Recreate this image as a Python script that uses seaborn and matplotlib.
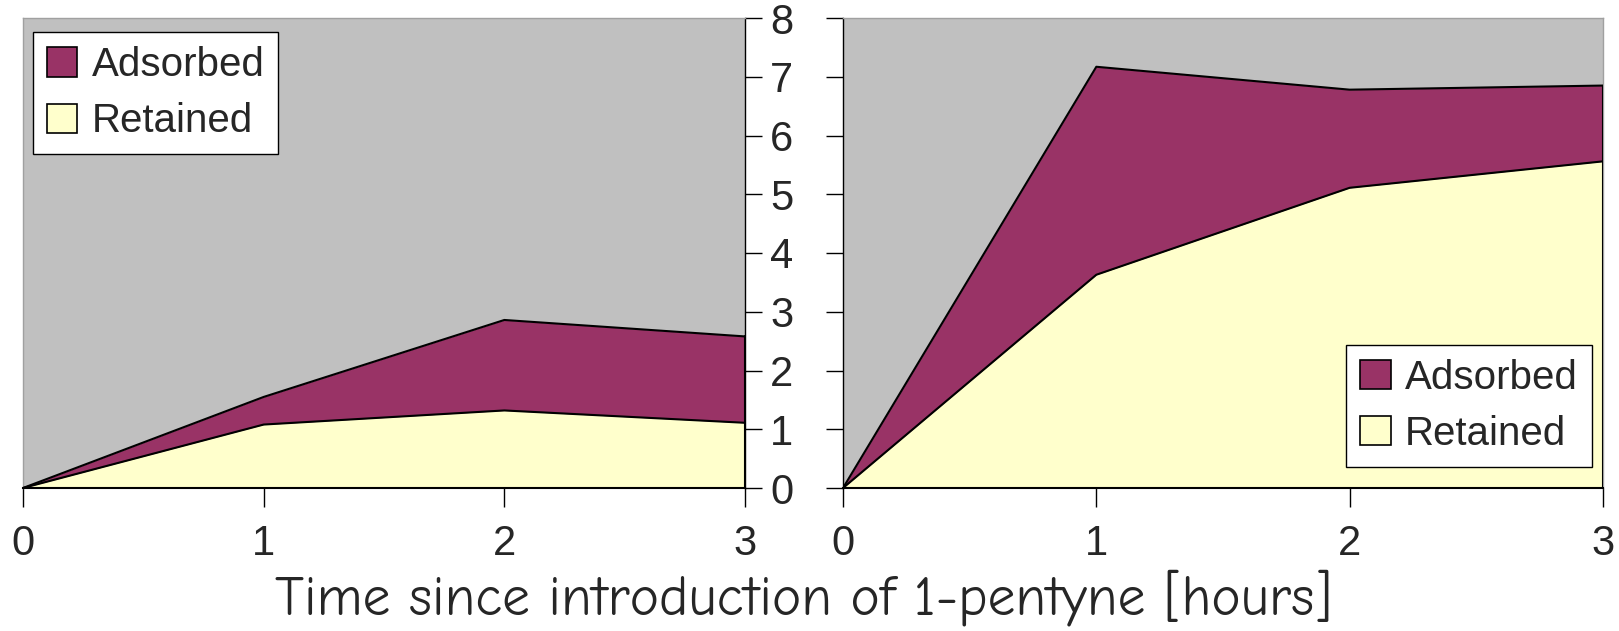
import matplotlib
matplotlib.use("Agg")
import matplotlib.pyplot as plt
import seaborn as sns
import numpy as np
import pandas as pd
from matplotlib.patches import Patch

hours = [0, 1, 2, 3]
left_retained = [0, 1.08, 1.32, 1.11]
left_adsorbed = [0, 0.47, 1.54, 1.47]
right_retained = [0, 3.63, 5.11, 5.56]
right_adsorbed = [0, 3.54, 1.67, 1.29]
y_ticks = [0, 1, 2, 3, 4, 5, 6, 7, 8]
x_label = "Time since introduction of 1-pentyne [hours]"
series_names = ["Adsorbed", "Retained"]

C_BG = "#C0C0C0"
C_ADS = "#993366"
C_RET = "#FFFFCC"

sns.set_theme(style="white")
plt.rcParams['font.family'] = ['Liberation Sans Narrow', 'Liberation Sans', 'DejaVu Sans']

fig = plt.figure(figsize=(16.19, 6.31), dpi=100)
W, H = 1619, 631
axL = fig.add_axes([23 / W, 1 - 488 / H, (745 - 23) / W, (488 - 18) / H])
axR = fig.add_axes([843 / W, 1 - 488 / H, (1603 - 843) / W, (488 - 18) / H])

def draw(ax, ret, ads):
    df = pd.DataFrame({"hours": hours, "Retained": ret,
                       "Total": np.array(ret) + np.array(ads)})
    ax.set_facecolor(C_BG)
    ax.fill_between(df["hours"], 0, df["Total"], color=C_ADS, lw=0, zorder=1)
    ax.fill_between(df["hours"], 0, df["Retained"], color=C_RET, lw=0, zorder=2)
    sns.lineplot(data=df, x="hours", y="Total", ax=ax, color="black", lw=1.5, zorder=3)
    sns.lineplot(data=df, x="hours", y="Retained", ax=ax, color="black", lw=1.5, zorder=3)
    ax.plot([3, 3], [0, df["Total"].iloc[-1]], color="black", lw=1.5, zorder=3)
    ax.set_xlim(0, 3)
    ax.set_ylim(0, 8)
    ax.set_xticks(hours)
    ax.set_yticks(y_ticks)
    ax.set_xlabel("")
    ax.set_ylabel("")
    for s in ax.spines.values():
        s.set_color("#A0A0A0")
        s.set_linewidth(1)
    ax.spines["bottom"].set_color("black")
    ax.spines["bottom"].set_linewidth(1.5)
    ax.tick_params(axis="x", direction="out", length=14, width=1, color="black",
                   labelsize=30, pad=12, bottom=True)

draw(axL, left_retained, left_adsorbed)
draw(axR, right_retained, right_adsorbed)

axL.spines["right"].set_color("black")
axL.spines["right"].set_linewidth(1)
axL.yaxis.tick_right()
axL.tick_params(axis="y", direction="out", length=12, width=1, color="black",
                labelsize=30, pad=6, right=True, left=False)

axR.spines["left"].set_color("black")
axR.spines["left"].set_linewidth(1)
axR.tick_params(axis="y", direction="out", length=12, width=1, color="black",
                labelleft=False, left=True)

handles = [Patch(facecolor=C_ADS, edgecolor="black", lw=1.2, label=series_names[0]),
           Patch(facecolor=C_RET, edgecolor="black", lw=1.2, label=series_names[1])]
for ax, loc, anchor in [(axL, "upper left", (0.014, 0.97)), (axR, "lower right", (0.985, 0.045))]:
    leg = ax.legend(handles=handles, loc=loc, bbox_to_anchor=anchor, fontsize=29,
                    frameon=True, fancybox=False, framealpha=1, edgecolor="black",
                    handlelength=0.75, handleheight=0.75, handletextpad=0.35,
                    borderpad=0.35, labelspacing=0.45, borderaxespad=0)
    leg.get_frame().set_linewidth(1)

fig.text(803 / W, 1 - 598 / H, x_label, ha="center", va="center", fontsize=40,
         family=["Comic Neue", "DejaVu Sans"])

fig.savefig("out.png", dpi=100)
